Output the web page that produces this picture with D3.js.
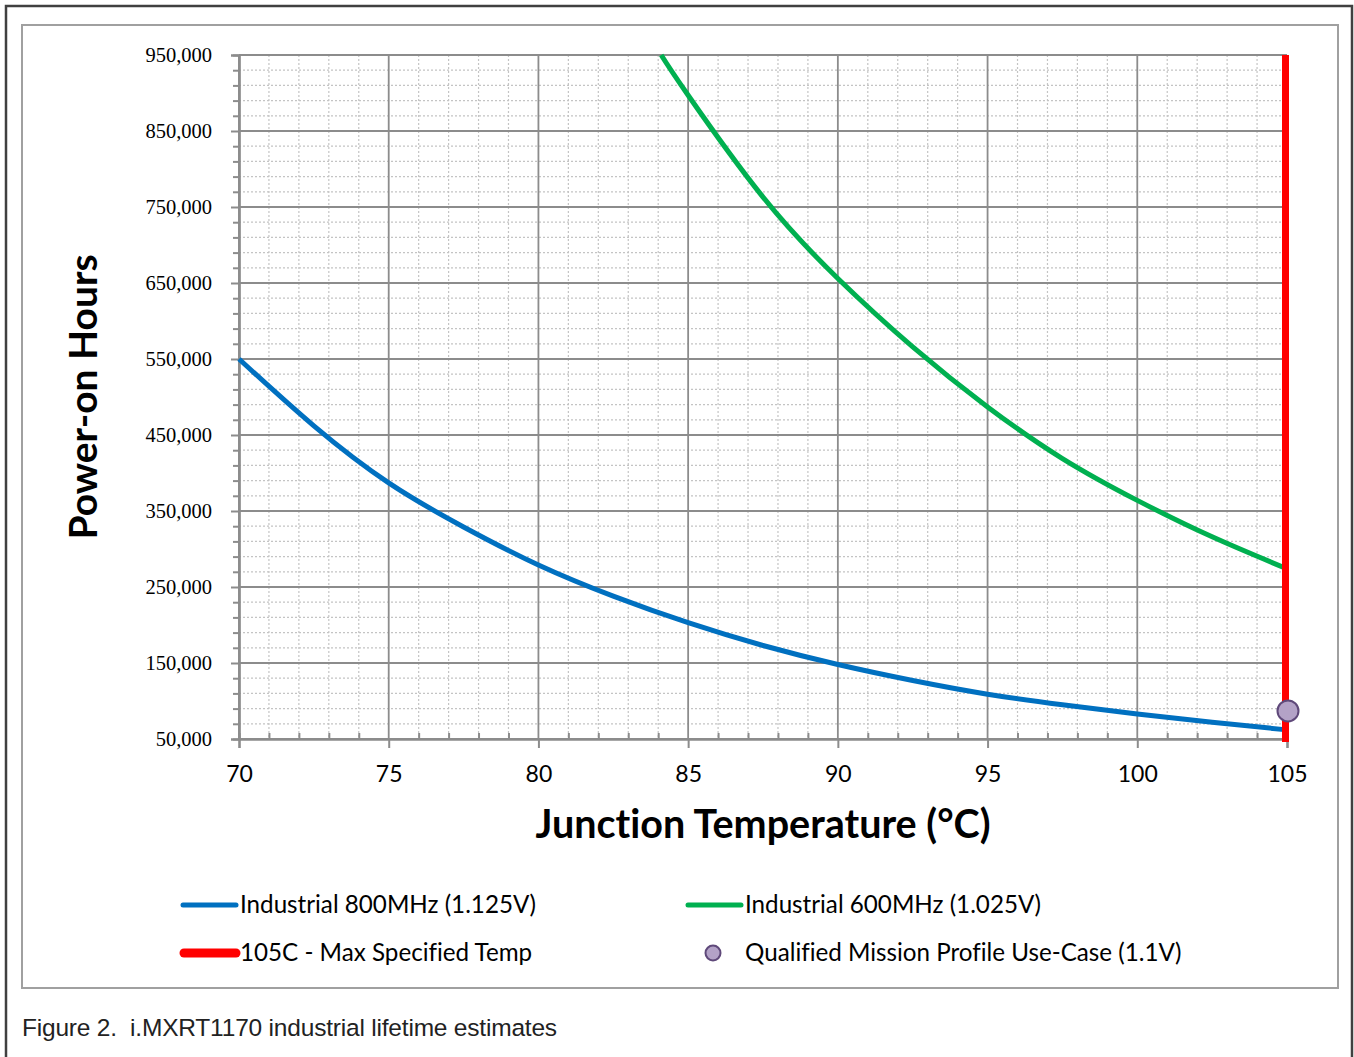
<!DOCTYPE html>
<html>
<head>
<meta charset="utf-8">
<script src="https://cdn.jsdelivr.net/npm/d3@7"></script>
<style>
  body { margin: 0; background: #fff; }
  svg { display: block; }
  text { font-variant-ligatures: none; }
</style>
</head>
<body>
<div id="chart"></div>
<script>
// values
var tempsBlue = [70,72.5,75,77.5,80,82.5,85,87.5,90,92.5,95,97.5,100,102.5,105];
var hoursBlue = [550000,462000,387000,329000,279000,238000,203000,173000,148000,127000,109000,95000,83000,72000,62000];

var tempsGreen = [84.1,85,87.5,90,92.5,95,97.5,100,102.5,105];
var hoursGreen = [950000,897000,763000,656000,566000,487000,419000,364000,316000,274000];

var maxTemp = 105;
var missionPoint = [105, 87000];

var xTicks = [70,75,80,85,90,95,100,105];
var yTicks = [50000,150000,250000,350000,450000,550000,650000,750000,850000,950000];

var legendItems = [
  {label: "Industrial 800MHz (1.125V)", kind: "line", color: "#0070c0"},
  {label: "Industrial 600MHz (1.025V)", kind: "line", color: "#00b050"},
  {label: "105C - Max Specified Temp", kind: "bar", color: "#ff0000"},
  {label: "Qualified Mission Profile Use-Case (1.1V)", kind: "dot", color: "#b3a2c7"}
];

(function(){
var W = 1354, H = 1057;
var pLeft = 239, pRight = 1287, pTop = 55, pBottom = 739;

var svg = d3.select("#chart").append("svg")
  .attr("width", W).attr("height", H);

// page border + chart frame
svg.append("path")
  .attr("d", "M6," + H + "V6H1352V" + H)
  .style("fill", "none").style("stroke", "#404040").style("stroke-width", 2.5);
svg.append("rect")
  .attr("x", 22).attr("y", 25).attr("width", 1316).attr("height", 963)
  .style("fill", "#fff").style("stroke", "#a0a0a0").style("stroke-width", 2);

var x = d3.scaleLinear().domain([70,105]).range([pLeft,pRight]);
var y = d3.scaleLinear().domain([50000,950000]).range([pBottom,pTop]);

var minorX = d3.range(70,106).filter(function(d){ return d % 5 != 0; });
var minorY = d3.range(50000,950001,20000).filter(function(d){ return (d - 50000) % 100000 != 0; });

var grid = svg.append("g");
//minor dotted grid
grid.selectAll(".mx").data(minorX).enter().append("line")
  .attr("x1", function(d){ return x(d); }).attr("x2", function(d){ return x(d); })
  .attr("y1", pTop).attr("y2", pBottom)
  .style("stroke", "#c4c4c4").style("stroke-width", 1.2).style("stroke-dasharray", "2,2");
grid.selectAll(".my").data(minorY).enter().append("line")
  .attr("x1", pLeft).attr("x2", pRight)
  .attr("y1", function(d){ return y(d); }).attr("y2", function(d){ return y(d); })
  .style("stroke", "#c4c4c4").style("stroke-width", 1.2).style("stroke-dasharray", "2,2");
//major solid grid
grid.selectAll(".Mx").data(xTicks).enter().append("line")
  .attr("x1", function(d){ return x(d); }).attr("x2", function(d){ return x(d); })
  .attr("y1", pTop).attr("y2", pBottom)
  .style("stroke", "#8c8c8c").style("stroke-width", 1.8);
grid.selectAll(".My").data(yTicks).enter().append("line")
  .attr("x1", pLeft).attr("x2", pRight)
  .attr("y1", function(d){ return y(d); }).attr("y2", function(d){ return y(d); })
  .style("stroke", "#8c8c8c").style("stroke-width", 1.8);

// axes
var yAxis = svg.append("g").attr("transform", "translate(" + pLeft + ",0)")
  .call(d3.axisLeft(y).tickValues(yTicks).tickSize(8).tickPadding(19).tickFormat(d3.format(",")));
var yMinor = svg.append("g").attr("transform", "translate(" + pLeft + ",0)")
  .call(d3.axisLeft(y).tickValues(minorY).tickSize(6).tickFormat(""));
var xAxis = svg.append("g").attr("transform", "translate(0," + pBottom + ")")
  .call(d3.axisBottom(x).tickValues(xTicks).tickSize(9).tickPadding(18).tickFormat(d3.format("d")));
var xMinor = svg.append("g").attr("transform", "translate(0," + pBottom + ")")
  .call(d3.axisBottom(x).tickValues(minorX).tickSize(-6).tickFormat(""));

[yAxis, yMinor, xAxis, xMinor].forEach(function(a){
  a.select(".domain").style("stroke", "#8c8c8c").style("stroke-width", 2.2);
  a.selectAll(".tick line").style("stroke", "#8c8c8c").style("stroke-width", 2);
});
yAxis.selectAll("text")
  .style("font-family", "'Liberation Serif', 'Times New Roman', serif")
  .style("font-size", "20.5px").style("fill", "#000");
xAxis.selectAll("text")
  .style("font-family", "Lato, 'Open Sans', sans-serif")
  .style("font-size", "23px").style("fill", "#000");

// series
var line = d3.line()
  .x(function(d){ return x(d[0]); })
  .y(function(d){ return y(d[1]); })
  .curve(d3.curveNatural);

svg.append("path")
  .datum(tempsBlue.map(function(t,i){ return [t, hoursBlue[i]]; }))
  .attr("d", line)
  .style("fill", "none").style("stroke", "#0070c0").style("stroke-width", 5);
svg.append("path")
  .datum(tempsGreen.map(function(t,i){ return [t, hoursGreen[i]]; }))
  .attr("d", line)
  .style("fill", "none").style("stroke", "#00b050").style("stroke-width", 5);

svg.append("line")
  .attr("x1", x(maxTemp) - 1.5).attr("x2", x(maxTemp) - 1.5)
  .attr("y1", pTop).attr("y2", pBottom + 3)
  .style("stroke", "#ff0000").style("stroke-width", 7);

svg.append("circle")
  .attr("cx", x(missionPoint[0]) + 1).attr("cy", y(missionPoint[1]))
  .attr("r", 10.5)
  .style("fill", "#b3a2c7").style("stroke", "#5f497a").style("stroke-width", 2);

// titles
svg.append("text")
  .attr("x", 763).attr("y", 838)
  .attr("text-anchor", "middle")
  .style("font-family", "Lato, 'Open Sans', sans-serif")
  .style("font-weight", "bold").style("font-size", "39.5px")
  .text("Junction Temperature (°C)");
svg.append("text")
  .attr("transform", "translate(97,397) rotate(-90)")
  .attr("text-anchor", "middle")
  .style("font-family", "Lato, 'Open Sans', sans-serif")
  .style("font-weight", "bold").style("font-size", "39px")
  .text("Power-on Hours");

// legend
var lg = svg.append("g")
  .style("font-family", "Lato, 'Open Sans', sans-serif")
  .style("font-size", "24.2px");
legendItems.forEach(function(it, i){
  var col = i % 2, row = Math.floor(i / 2);
  var lx = col == 0 ? 183 : 688;
  var ly = 905 + row * 48;
  var g = lg.append("g");
  if(it.kind == "line"){
    g.append("line").attr("x1", lx).attr("x2", lx + 53).attr("y1", ly).attr("y2", ly)
      .style("stroke", it.color).style("stroke-width", 5).style("stroke-linecap", "round");
  } else if(it.kind == "bar"){
    g.append("line").attr("x1", lx + 1).attr("x2", lx + 53).attr("y1", ly).attr("y2", ly)
      .style("stroke", it.color).style("stroke-width", 9).style("stroke-linecap", "round");
  } else {
    g.append("circle").attr("cx", lx + 25).attr("cy", ly).attr("r", 7.5)
      .style("fill", it.color).style("stroke", "#5f497a").style("stroke-width", 2);
  }
  g.append("text")
    .attr("x", lx + 57)
    .attr("y", ly + 8)
    .text(it.label);
});

// caption
svg.append("text")
  .attr("x", 22).attr("y", 1036)
  .attr("xml:space", "preserve")
  .style("white-space", "pre")
  .style("font-family", "'Liberation Sans', Arial, sans-serif")
  .style("font-size", "24.5px").style("fill", "#222")
  .style("letter-spacing", "-0.2px")
  .text("Figure 2.  i.MXRT1170 industrial lifetime estimates");
})();
</script>
</body>
</html>
